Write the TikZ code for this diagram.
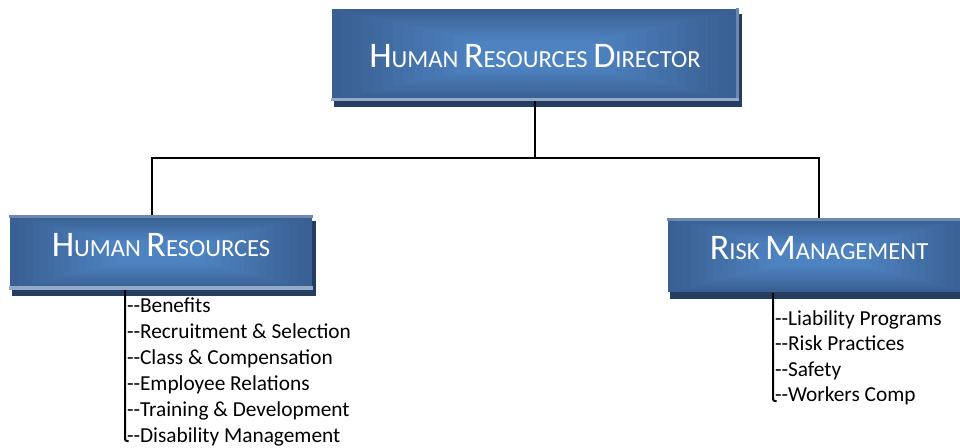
\documentclass[tikz,border=0pt]{standalone}
\usepackage{fontspec}
\setmainfont{Carlito}
\usetikzlibrary{calc,backgrounds}

\definecolor{boxedge}{HTML}{3A5F92}
\definecolor{boxglow}{HTML}{4E84C2}
\definecolor{boxshade}{HTML}{253D60}
\definecolor{rimtop}{HTML}{6B89B2}
\definecolor{rimbot}{HTML}{93AAC8}

\newcommand{\capfirst}[1]{{\fontsize{27pt}{32pt}\selectfont #1}}
\newcommand{\twodash}{-\kern0pt-}

\tikzset{every picture/.style={line width=1.5pt}}
\tikzset{
  orgbox/.style={rectangle, inner sep=0pt,
    path picture={
      \foreach \k [evaluate=\k as \p using int(100-7*\k), evaluate=\k as \t using 0.05*\k] in {0,...,14}
        \fill[boxedge!\p!boxglow] ($(path picture bounding box.south west)!\t!(path picture bounding box.center)$) rectangle ($(path picture bounding box.north east)!\t!(path picture bounding box.center)$);
    }},
  boxtitle/.style={text=white, inner sep=0pt, anchor=base, font=\fontsize{18.4pt}{22pt}\selectfont},
  duty/.style={inner sep=0pt, anchor=base west, font=\fontsize{16pt}{19.5pt}\selectfont},
  link/.style={draw=black, line width=1.5pt},
}

\begin{document}
\begin{tikzpicture}[x=0.75pt,y=0.75pt,yscale=-1,xscale=1]
\useasboundingbox (0,0) rectangle (960,447);

%Shape: Boxes
\node[orgbox, minimum width=304.5pt, minimum height=68.25pt] (hrd) at (535,54.5) {};
\node[orgbox, minimum width=226.5pt, minimum height=54.75pt] (hr) at (161,252.5) {};
\node[orgbox, minimum width=226.5pt, minimum height=54.75pt] (rm) at (819,255.5) {};

%Shape: Shadows
\begin{scope}[on background layer]
\foreach \b in {hrd,hr,rm}
  \fill[boxshade] ($(\b.south west)+(2.5,5.5)$) rectangle ($(\b.north east)+(2.5,5.5)$);
\end{scope}

%Shape: Rims
\fill[rimbot] ($(hrd.south west)+(0,-3)$) rectangle (hrd.south east);
\fill[rimtop] ($(hrd.north east)+(-3,0)$) rectangle ($(hrd.south east)+(0,-3)$);
\fill[rimtop] (hr.north west) rectangle ($(hr.north east)+(0,3)$);
\fill[rimbot] ($(hr.south west)+(0,-4)$) rectangle (hr.south east);
\fill[rimtop] (rm.north west) rectangle ($(rm.north east)+(0,3)$);

% Text Node
\node[boxtitle] (hrdtext) at ($(hrd.center)+(0,12.5)$) {\capfirst{H}UMAN \capfirst{R}ESOURCES \capfirst{D}IRECTOR};
% Text Node
\node[boxtitle] (hrtext) at ($(hr.center)+(0,3.5)$) {\capfirst{H}UMAN \capfirst{R}ESOURCES};
% Text Node
\node[boxtitle] (rmtext) at ($(rm.center)+(0,3.8)$) {\capfirst{R}ISK \capfirst{M}ANAGEMENT};

%Straight Lines
\draw[link] (hrd.south) -- ++(0,57) coordinate (bus);
\draw[link] ($(hr.north)+(-9,0)$) |- (bus) -| (rm.north);

%Straight Lines: lists
\coordinate (hrend) at (125,441);
\draw[link, rounded corners=1.5pt] (hr.south -| hrend) -- (hrend) -- ++(3.5,0);
\coordinate (rmend) at (773,401);
\draw[link, rounded corners=1.5pt] (rm.south -| rmend) -- (rmend) -- ++(3.5,0);

% Text Node
\foreach \duty [count=\i] in {Benefits, Recruitment \& Selection, Class \& Compensation, Employee Relations, Training \& Development, Disability Management}
  \node[duty] (hrduty\i) at (126, 286+26*\i) {\twodash\duty};
% Text Node
\foreach \duty [count=\i] in {Liability Programs, Risk Practices, Safety, Workers Comp}
  \node[duty] (rmduty\i) at (774, 299.5+25.5*\i) {\twodash\duty};

\end{tikzpicture}
\end{document}
